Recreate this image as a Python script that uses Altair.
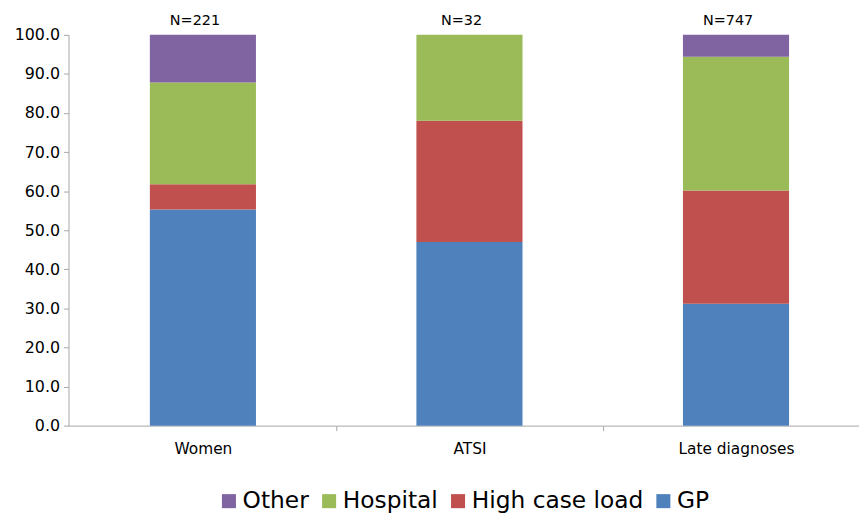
import altair as alt
import pandas as pd

categories = ["Women", "ATSI", "Late diagnoses"]
series = ["GP", "High case load", "Hospital", "Other"]
gp = [55.3, 47.0, 31.2]
high_case_load = [6.5, 31.0, 29.0]
hospital = [26.0, 22.0, 34.2]
other = [12.2, 0.0, 5.6]
n_labels = ["N=221", "N=32", "N=747"]
y_ticks = [0, 10, 20, 30, 40, 50, 60, 70, 80, 90, 100]

legend_order = ["Other", "Hospital", "High case load", "GP"]
colors = ["#8064A2", "#9BBB59", "#C0504D", "#4F81BD"]

rows = []
for i, c in enumerate(categories):
    for k, (s, vals) in enumerate(zip(series, [gp, high_case_load, hospital, other])):
        rows.append({"category": c, "series": s, "value": vals[i], "order": k})
df = pd.DataFrame(rows)
ndf = pd.DataFrame({"category": categories, "label": n_labels, "top": [100.0] * 3})

FONT = "DejaVu Sans"
STEP = 268.75

xscale = alt.Scale(domain=categories, paddingInner=0.6019, paddingOuter=0.2838, align=0.5377)
yscale = alt.Scale(domain=[0, 100], nice=False)

xaxis = alt.Axis(title=None, labelAngle=0, tickOffset=STEP / 2, labelOffset=-STEP / 2,
                 labelFontSize=15.5, labelPadding=11, tickSize=5,
                 domainColor="#A6A6A6", tickColor="#A6A6A6",
                 labelColor="#000000", labelFont=FONT)
yaxis = alt.Axis(title=None, values=y_ticks, format=".1f", grid=False,
                 labelFontSize=16, tickSize=5, labelPadding=4, labelOverlap=False,
                 labelFlush=False,
                 domainColor="#A6A6A6", tickColor="#A6A6A6", labelColor="#000000",
                 labelFont=FONT)

bars = alt.Chart(df).mark_bar().encode(
    x=alt.X("category:N", scale=xscale, sort=categories, axis=xaxis),
    y=alt.Y("value:Q", stack="zero", scale=yscale, axis=yaxis),
    color=alt.Color("series:N", scale=alt.Scale(domain=legend_order, range=colors),
                    legend=alt.Legend(title=None, orient="none", direction="horizontal",
                                      legendX=150, legendY=458, symbolType="square",
                                      symbolSize=200, symbolStrokeWidth=0, labelFontSize=23.5,
                                      labelFont=FONT, labelColor="#000000", labelOffset=2,
                                      labelLimit=400, columnPadding=8, symbolOpacity=1)),
    order=alt.Order("order:Q"),
)

texts = alt.Chart(ndf).mark_text(fontSize=14.5, font=FONT, dy=-14, dx=-8, color="#000000",
                                 baseline="middle").encode(
    x=alt.X("category:N", scale=xscale, sort=categories, axis=xaxis),
    y=alt.Y("top:Q", scale=yscale, axis=yaxis),
    text="label:N",
)

chart = (bars + texts).properties(
    width=797, height=394,
    autosize=alt.AutoSizeParams(type="none"),
    padding={"left": 61, "top": 25, "right": 0, "bottom": 86},
).configure_view(stroke=None).configure_axis(labelFont=FONT)

chart.save("out.html", embed_options={"renderer": "svg", "actions": False})
